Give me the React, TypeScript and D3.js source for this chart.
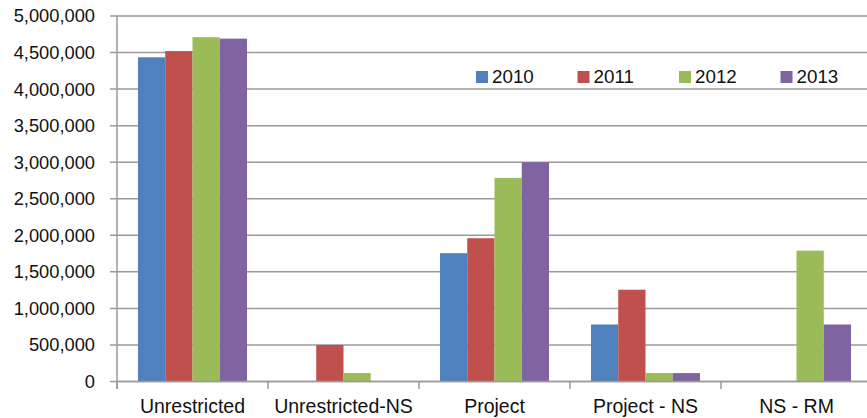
import React from "react";
import * as d3 from "d3";

const categories = ["Unrestricted", "Unrestricted-NS", "Project", "Project - NS", "NS - RM"];
const seriesNames = ["2010", "2011", "2012", "2013"];
const values2010 = [4435000, 0, 1755000, 780000, 0];
const values2011 = [4520000, 500000, 1960000, 1255000, 0];
const values2012 = [4710000, 115000, 2785000, 115000, 1790000];
const values2013 = [4690000, 0, 3000000, 115000, 780000];
const yTicks = [0, 500000, 1000000, 1500000, 2000000, 2500000, 3000000, 3500000, 4000000, 4500000, 5000000];
const colors = ["#4f81bd", "#c0504d", "#9bbb59", "#8064a2"];

const W = 867;
const H = 418;
const FONT = "'Liberation Sans', Arial, sans-serif";

export default function App() {
  const series = [values2010, values2011, values2012, values2013];
  const y = d3.scaleLinear().domain([0, 5000000]).range([381.5, 16]);
  const x0 = d3.scaleBand<string>().domain(categories).range([117, 872]).padding(0);
  const x1 = d3
    .scaleBand<string>()
    .domain(seriesNames)
    .range([0, x0.bandwidth()])
    .paddingInner(0)
    .paddingOuter(0.77);
  const fmt = d3.format(",");
  const grid = "#9a9a9a";

  return (
    <svg
      width={W}
      height={H}
      style={{ position: "fixed", left: 0, top: 0, background: "#fff" }}
      fontFamily={FONT}
    >
      {yTicks.map((t) => (
        <line key={"g" + t} x1={110} x2={W} y1={y(t)} y2={y(t)} stroke={grid} strokeWidth={1.5} />
      ))}
      <line x1={117} x2={117} y1={y(5000000)} y2={389} stroke={grid} strokeWidth={1.5} />
      {yTicks.map((t) => (
        <text
          key={"t" + t}
          x={95}
          y={y(t)}
          dy="0.35em"
          textAnchor="end"
          fontSize={18.3}
          fill="#111"
        >
          {fmt(t)}
        </text>
      ))}
      {categories.map((c, ci) =>
        seriesNames.map((s, si) => {
          const v = series[si][ci];
          if (!v) return null;
          const bx = (x0(c) as number) + (x1(s) as number);
          return (
            <rect
              key={c + s}
              x={bx}
              y={y(v)}
              width={x1.bandwidth()}
              height={y(0) - y(v)}
              fill={colors[si]}
            />
          );
        })
      )}
      <line x1={117} x2={W} y1={y(0)} y2={y(0)} stroke={grid} strokeWidth={1.5} />
      {categories.map((c) => (
        <line
          key={"xt" + c}
          x1={x0(c) as number}
          x2={x0(c) as number}
          y1={y(0)}
          y2={389}
          stroke={grid}
          strokeWidth={1.5}
        />
      ))}
      {categories.map((c) => (
        <text
          key={"xl" + c}
          x={(x0(c) as number) + x0.bandwidth() / 2}
          y={413}
          textAnchor="middle"
          fontSize={19.5}
          fill="#111"
        >
          {c}
        </text>
      ))}
      {seriesNames.map((s, i) => {
        const lx = 476 + i * 101.5;
        return (
          <g key={"lg" + s}>
            <rect x={lx} y={71} width={12} height={12} fill={colors[i]} />
            <text x={lx + 16} y={83} fontSize={18.8} fill="#111">
              {s}
            </text>
          </g>
        );
      })}
    </svg>
  );
}
